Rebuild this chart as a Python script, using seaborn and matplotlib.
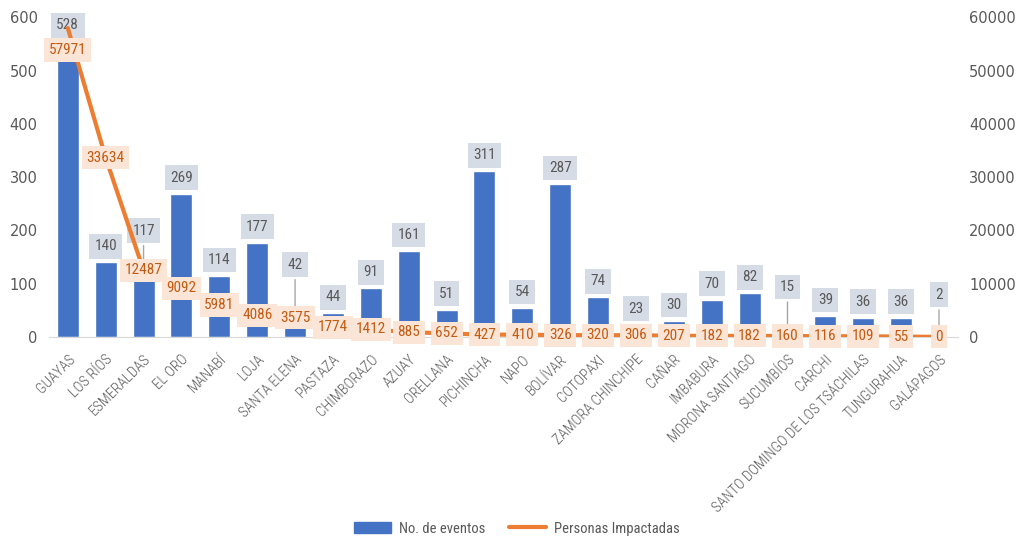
import matplotlib
matplotlib.use("Agg")
import matplotlib.pyplot as plt
import pandas as pd
import seaborn as sns
from matplotlib.lines import Line2D
from matplotlib.patches import Patch

provincias = ["GUAYAS", "LOS RÍOS", "ESMERALDAS", "EL ORO", "MANABÍ", "LOJA", "SANTA ELENA",
              "PASTAZA", "CHIMBORAZO", "AZUAY", "ORELLANA", "PICHINCHA", "NAPO", "BOLÍVAR",
              "COTOPAXI", "ZAMORA CHINCHIPE", "CAÑAR", "IMBABURA", "MORONA SANTIAGO",
              "SUCUMBÍOS", "CARCHI", "SANTO DOMINGO DE LOS TSÁCHILAS", "TUNGURAHUA", "GALÁPAGOS"]
eventos = [528, 140, 117, 269, 114, 177, 42, 44, 91, 161, 51, 311, 54, 287, 74, 23, 30, 70, 82,
           15, 39, 36, 36, 2]
personas = [57971, 33634, 12487, 9092, 5981, 4086, 3575, 1774, 1412, 885, 652, 427, 410, 326,
            320, 306, 207, 182, 182, 160, 116, 109, 55, 0]

df = pd.DataFrame({"Provincia": provincias, "Eventos": eventos, "Personas": personas})

AZUL = "#4472C4"
NARANJA = "#ED7D31"
GRIS = "#595959"
ESTRECHA = ["Roboto Condensed", "DejaVu Sans"]

sns.set_style("white")
plt.rcParams["font.family"] = ["DejaVu Sans"]

fig = plt.figure(figsize=(10.18, 5.39), dpi=100)
ax = fig.add_axes([0.048, 0.375, 0.893, 0.593])
sns.barplot(data=df, x="Provincia", y="Eventos", color=AZUL, width=0.58, saturation=1, ax=ax)
ax.set_xlim(-0.5, 23.5)
ax.set_ylim(0, 600)
ax.set_yticks(range(0, 601, 100))
ax.set_xlabel("")
ax.set_ylabel("")

ax2 = ax.twinx()
sns.lineplot(data=df, x="Provincia", y="Personas", color=NARANJA, linewidth=3, sort=False, ax=ax2)
ax2.set_ylim(0, 60000)
ax2.set_yticks(range(0, 60001, 10000))
ax2.set_ylabel("")

for a in (ax, ax2):
    for s in a.spines.values():
        s.set_visible(False)
    a.tick_params(axis="y", length=0, labelsize=10.5, labelcolor=GRIS, pad=8)
ax.spines["bottom"].set_visible(True)
ax.spines["bottom"].set_color("#D9D9D9")
ax.tick_params(axis="x", length=0, pad=11)
ax.set_xticks(range(len(provincias)))
ax.set_xticklabels(provincias, rotation=45, ha="right", rotation_mode="anchor",
                   fontsize=10.5, color=GRIS, family=ESTRECHA, fontweight="light")

# etiquetas de barras (algunas desplazadas con linea guia)
saltos = {2: 44, 6: 50, 19: 42, 23: 41}
for i, v in enumerate(eventos):
    if i == 0:
        xy, off = (0, 600), (0, -8)
    else:
        xy, off = (i, v), (0, saltos.get(i, 16))
    ax.annotate(str(v), xy=xy, xytext=off, textcoords="offset pixels",
                ha="center", va="center", fontsize=11, color=GRIS, family=ESTRECHA,
                bbox=dict(boxstyle="square,pad=0.35", fc="#D6DCE5", ec="none"),
                arrowprops=dict(arrowstyle="-", color="#A6A6A6", lw=1) if i in saltos else None,
                annotation_clip=False)

# etiquetas de la linea
for i, v in enumerate(personas):
    off = -22 if i == 0 else 0
    ax2.annotate(str(v), xy=(i, v), xytext=(0, off), textcoords="offset pixels",
                 ha="center", va="center", fontsize=11, color="#C55A11", family=ESTRECHA,
                 bbox=dict(boxstyle="square,pad=0.3", fc="#FBE5D6", ec="none"),
                 annotation_clip=False)

handles = [Patch(color=AZUL, label="No. de eventos"),
           Line2D([0], [0], color=NARANJA, lw=3, label="Personas Impactadas")]
fig.legend(handles=handles, loc="lower center", bbox_to_anchor=(0.508, -0.018), ncol=2,
           frameon=False, labelcolor=GRIS, handlelength=2.5, columnspacing=1.6,
           handletextpad=0.6, prop={"family": ESTRECHA, "size": 10.5})

fig.savefig("out.png", dpi=100)
